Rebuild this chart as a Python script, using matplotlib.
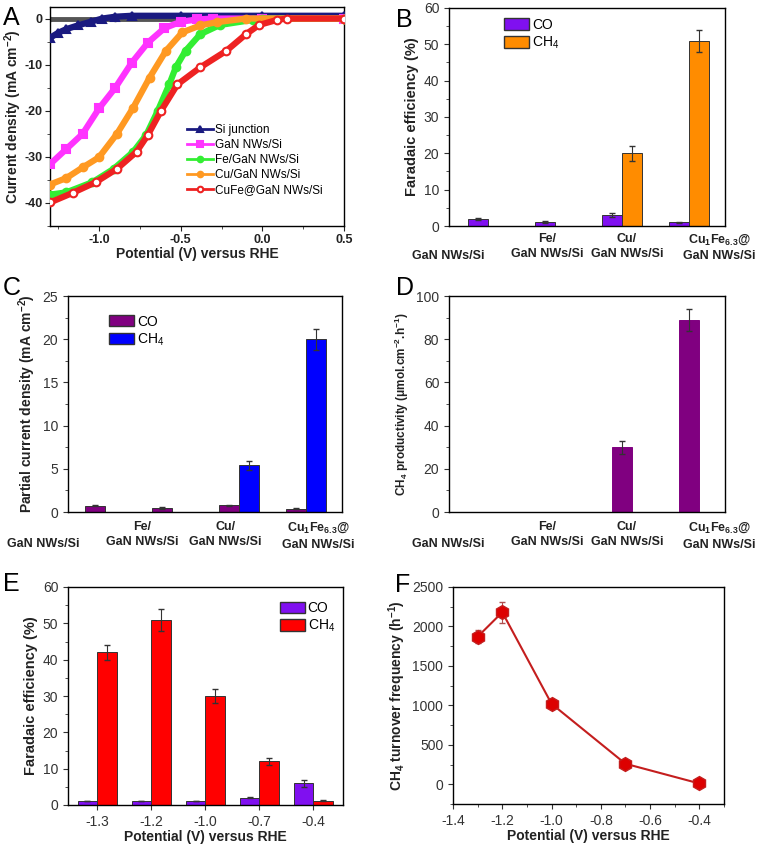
"""
Six-panel figure: LSV curves, Faradaic efficiency, partial current density,
CH4 productivity, potential-dependent FE and CH4 turnover frequency.
"""

import numpy as np
import matplotlib
matplotlib.use("Agg")
import matplotlib.pyplot as plt
from matplotlib.ticker import MultipleLocator
from matplotlib.patches import Patch

W, H = 762, 844

plt.rcParams.update({
    "font.family": ["Liberation Sans", "DejaVu Sans"],
    "mathtext.fontset": "custom",
    "mathtext.rm": "Liberation Sans",
    "mathtext.bf": "Liberation Sans:bold",
    "mathtext.it": "Liberation Sans:italic",
    "mathtext.default": "regular",
    "axes.unicode_minus": False,
    "axes.linewidth": 1.0,
    "xtick.direction": "out",
    "ytick.direction": "out",
    "xtick.color": "#333333",
    "ytick.color": "#333333",
    "xtick.labelsize": 10,
    "ytick.labelsize": 10,
})

# ---- panel A: LSV curves (V vs RHE, mA cm-2) ----
v_dark = [-1.3, -0.9, -0.5, 0.0, 0.5]
j_dark = [0.0, 0.0, 0.0, 0.0, 0.0]

v_si = [-1.3, -1.25, -1.2, -1.13, -1.05, -0.98, -0.9, -0.8, -0.5, 0.0, 0.5]
j_si = [-4.2, -3.1, -2.3, -1.5, -0.7, 0.0, 0.4, 0.6, 0.6, 0.6, 0.6]

v_gan = [-1.3, -1.2, -1.1, -1.0, -0.9, -0.8, -0.7, -0.6, -0.5, -0.4, -0.3, 0.0, 0.5]
j_gan = [-31.6, -28.3, -25.0, -19.5, -15.0, -9.6, -5.2, -2.1, -0.7, -0.2, 0.0, 0.0, 0.0]

v_fe = [-1.3, -1.2, -1.04, -0.91, -0.79, -0.71, -0.64, -0.57, -0.53, -0.47,
        -0.38, -0.26, -0.06, 0.0, 0.5]
j_fe = [-38.2, -37.7, -35.5, -32.6, -28.9, -25.2, -20.0, -14.3, -10.6, -7.0,
        -3.4, -1.4, -0.3, 0.0, 0.0]

v_cu = [-1.3, -1.2, -1.1, -1.0, -0.89, -0.79, -0.69, -0.59, -0.49, -0.38,
        -0.28, -0.1, 0.5]
j_cu = [-36.0, -34.6, -32.3, -30.1, -25.0, -19.3, -12.8, -7.0, -3.0, -1.5,
        -0.8, 0.0, 0.0]

v_cufe = [-1.3, -1.16, -1.02, -0.89, -0.77, -0.70, -0.62, -0.52, -0.38, -0.22,
          -0.10, -0.02, 0.09, 0.15, 0.5]
j_cufe = [-39.9, -37.8, -35.5, -32.6, -28.9, -25.2, -20.0, -14.3, -10.6, -7.0,
          -3.4, -1.4, -0.3, 0.0, 0.0]

# ---- panels B-D: catalysts ----
cat_labels = ["GaN NWs/Si", "Fe/\nGaN NWs/Si", "Cu/\nGaN NWs/Si",
              "$\\mathbf{Cu_1Fe_{6.3}}$@\nGaN NWs/Si"]
cat_x = [1, 2, 3, 4]

fe_co = [2.0, 1.2, 3.0, 1.0]
fe_co_err = [0.3, 0.3, 0.5, 0.2]
fe_ch4 = [0.0, 0.0, 20.0, 51.0]
fe_ch4_err = [0.0, 0.0, 2.0, 3.0]

jp_co = [0.75, 0.45, 0.8, 0.4]
jp_co_err = [0.08, 0.08, 0.05, 0.05]
jp_ch4 = [0.0, 0.0, 5.4, 20.0]
jp_ch4_err = [0.0, 0.0, 0.5, 1.2]

prod_ch4 = [0.0, 0.0, 30.0, 89.0]
prod_ch4_err = [0.0, 0.0, 3.0, 5.0]

# ---- panels E-F: potential dependence ----
pot_labels = ["-1.3", "-1.2", "-1.0", "-0.7", "-0.4"]
pot_v = [-1.3, -1.2, -1.0, -0.7, -0.4]
fe2_co = [1.0, 1.0, 1.0, 2.0, 6.0]
fe2_co_err = [0.0, 0.0, 0.0, 0.2, 1.0]
fe2_ch4 = [42.0, 51.0, 30.0, 12.0, 1.2]
fe2_ch4_err = [2.0, 3.0, 2.0, 1.0, 0.2]

tof = [1870, 2180, 1020, 260, 10]
tof_err = [80, 130, 40, 30, 20]

BOLD = dict(fontweight="bold", color="#222222")
ERR = dict(lw=0.8, ecolor="#333333")


def px_axes(fig, left, top, right, bottom):
    return fig.add_axes([left / W, 1 - bottom / H, (right - left) / W,
                         (bottom - top) / H])


def panel_letter(fig, x, y, s):
    fig.text(x / W, 1 - y / H, s, fontsize=18, ha="left", va="top")


def cat_axis(ax, label_pos, y_frac, h_px):
    # category names sit under the axis at hand-placed positions (axes fraction);
    # one-line names drop to the second text row
    ax.set_xticks([])
    line = 17 / h_px
    for xf, lab in zip(label_pos, cat_labels):
        y = y_frac if "\n" in lab else y_frac - line
        ax.text(xf, y, lab, transform=ax.transAxes, ha="center",
                va="top", fontsize=9, fontweight="bold", color="#222222",
                linespacing=1.35, clip_on=False)


def bar_legend(ax, colors, anchor):
    ax.legend(handles=[Patch(fc=colors[0], ec="#333333", label="CO"),
                       Patch(fc=colors[1], ec="#333333", label="CH$_4$")],
              loc="upper left", bbox_to_anchor=anchor, frameon=False,
              fontsize=10, handlelength=1.8, handleheight=0.9,
              handletextpad=0.2, labelspacing=0.2, borderaxespad=0)


fig = plt.figure(figsize=(W / 100, H / 100), dpi=100)

# A
ax = px_axes(fig, 50, 7, 344, 226)
ax.plot(v_dark, j_dark, color="#555555", lw=3.5, marker="o", ms=3, zorder=2)
series = [
    (v_si, j_si, "#1a1a80", "^", "Si junction", "#1a1a80"),
    (v_gan, j_gan, "#ff33ff", "s", "GaN NWs/Si", "#ff33ff"),
    (v_fe, j_fe, "#33ee33", "o", "Fe/GaN NWs/Si", "#33ee33"),
    (v_cu, j_cu, "#ff9922", "o", "Cu/GaN NWs/Si", "#ff9922"),
    (v_cufe, j_cufe, "#ee2222", "o", "CuFe@GaN NWs/Si", "white"),
]
for v, j, c, m, lab, mfc in series:
    ax.plot(v, j, color=c, lw=4.5, marker=m, ms=5.5, mfc=mfc, mec=c,
            mew=1.5, label=lab, zorder=3)
leg = ax.legend(loc="center left", bbox_to_anchor=(0.45, 0.3), frameon=False,
                fontsize=8.5, handlelength=2.2, handletextpad=0.2,
                labelspacing=0.25, borderaxespad=0)
for h in leg.legend_handles:
    h.set_linewidth(2)
    h.set_markersize(4)
ax.set_xlim(-1.3, 0.5)
ax.set_ylim(-45, 2.5)
ax.xaxis.set_major_locator(MultipleLocator(0.5))
ax.xaxis.set_minor_locator(MultipleLocator(0.25))
ax.yaxis.set_minor_locator(MultipleLocator(5))
ax.set_yticks([0, -10, -20, -30, -40])
ax.tick_params(labelsize=9, colors="#222222", pad=2)
for lab in ax.get_xticklabels() + ax.get_yticklabels():
    lab.set_fontweight("bold")
ax.set_xlabel("Potential (V) versus RHE", fontsize=10, labelpad=1, **BOLD)
ax.set_ylabel("Current density (mA cm$\\mathbf{^{-2}}$)", fontsize=10,
              labelpad=0, **BOLD)
panel_letter(fig, 3, 6, "A")

# B
w = 0.3
x = np.array(cat_x)
ax = px_axes(fig, 449, 8, 725, 226)
ax.bar(x - w / 2, fe_co, w, color="#8010f0", edgecolor="#333333", lw=0.7,
       yerr=fe_co_err, capsize=2.5, error_kw=ERR)
ax.bar((x + w / 2)[2:], fe_ch4[2:], w, color="#ff8c00", edgecolor="#333333",
       lw=0.7, yerr=fe_ch4_err[2:], capsize=2.5, error_kw=ERR)
bar_legend(ax, ("#8010f0", "#ff8c00"), (0.18, 0.98))
ax.set_xlim(0.418, 4.537)
ax.set_ylim(0, 60)
ax.yaxis.set_major_locator(MultipleLocator(10))
ax.yaxis.set_minor_locator(MultipleLocator(5))
cat_axis(ax, [-0.004, 0.355, 0.645, 0.978], -0.03, 218)
ax.set_ylabel("Faradaic efficiency (%)", fontsize=10.5, labelpad=3, **BOLD)
panel_letter(fig, 396, 8, "B")

# C
ax = px_axes(fig, 68, 296, 342, 512)
ax.bar(x - w / 2, jp_co, w, color="#800080", edgecolor="#333333", lw=0.7,
       yerr=jp_co_err, capsize=2.5, error_kw=ERR)
ax.bar((x + w / 2)[2:], jp_ch4[2:], w, color="#0000ff", edgecolor="#333333",
       lw=0.7, yerr=jp_ch4_err[2:], capsize=2.5, error_kw=ERR)
bar_legend(ax, ("#800080", "#0000ff"), (0.13, 0.94))
ax.set_xlim(0.448, 4.537)
ax.set_ylim(0, 25)
ax.yaxis.set_major_locator(MultipleLocator(5))
ax.yaxis.set_minor_locator(MultipleLocator(2.5))
cat_axis(ax, [-0.09, 0.27, 0.575, 0.912], -0.042, 216)
ax.set_ylabel("Partial current density (mA cm$\\mathbf{^{-2}}$)", fontsize=10,
              labelpad=3, **BOLD)
panel_letter(fig, 3, 276, "C")

# D
ax = px_axes(fig, 449, 296, 725, 512)
ax.bar(x[2:], prod_ch4[2:], 0.31, color="#800080", edgecolor="#800080",
       lw=0.7, yerr=prod_ch4_err[2:], capsize=2.5, error_kw=ERR)
ax.set_xlim(0.418, 4.537)
ax.set_ylim(0, 100)
ax.yaxis.set_major_locator(MultipleLocator(20))
ax.yaxis.set_minor_locator(MultipleLocator(10))
cat_axis(ax, [-0.004, 0.355, 0.645, 0.978], -0.042, 216)
ax.set_ylabel("$\\mathbf{CH_4}$ productivity (μmol.cm$\\mathbf{^{-2}}$.h$\\mathbf{^{-1}}$)",
              fontsize=8.5, labelpad=4, **BOLD)
panel_letter(fig, 396, 276, "D")

# E
w2 = 0.36
ax = px_axes(fig, 68, 587, 343, 805)
xe = np.arange(1, len(pot_labels) + 1)
ax.bar(xe - w2 / 2, fe2_co, w2, color="#8010f0", edgecolor="#333333", lw=0.7,
       yerr=fe2_co_err, capsize=2.5, error_kw=ERR)
ax.bar(xe + w2 / 2, fe2_ch4, w2, color="#ff0000", edgecolor="#333333", lw=0.7,
       yerr=fe2_ch4_err, capsize=2.5, error_kw=ERR)
bar_legend(ax, ("#8010f0", "#ff0000"), (0.75, 0.96))
ax.set_xlim(0.46, 5.55)
ax.set_ylim(0, 60)
ax.set_xticks(xe)
ax.set_xticklabels(pot_labels)
ax.yaxis.set_major_locator(MultipleLocator(10))
ax.yaxis.set_minor_locator(MultipleLocator(5))
ax.set_xlabel("Potential (V) versus RHE", fontsize=10, labelpad=1, **BOLD)
ax.set_ylabel("Faradaic efficiency (%)", fontsize=10.5, labelpad=3, **BOLD)
panel_letter(fig, 3, 572, "E")

# F
ax = px_axes(fig, 453, 587, 724, 804)
ax.errorbar(pot_v, tof, yerr=tof_err, color="#c41e1e", lw=1.5, marker="h",
            ms=10, mfc="#dd0000", mec="#c41e1e", capsize=2.5, elinewidth=0.8,
            ecolor="#b05050")
ax.set_xlim(-1.4, -0.3)
ax.set_ylim(-250, 2500)
ax.xaxis.set_minor_locator(MultipleLocator(0.1))
ax.yaxis.set_minor_locator(MultipleLocator(250))
ax.set_xticks([-1.4, -1.2, -1.0, -0.8, -0.6, -0.4])
ax.set_yticks([0, 500, 1000, 1500, 2000, 2500])
ax.set_xlabel("Potential (V) versus RHE", fontsize=10, labelpad=1, **BOLD)
ax.set_ylabel("$\\mathbf{CH_4}$ turnover frequency (h$\\mathbf{^{-1}}$)",
              fontsize=10, labelpad=3, **BOLD)
panel_letter(fig, 395, 573, "F")

fig.savefig("out.png", dpi=100)
